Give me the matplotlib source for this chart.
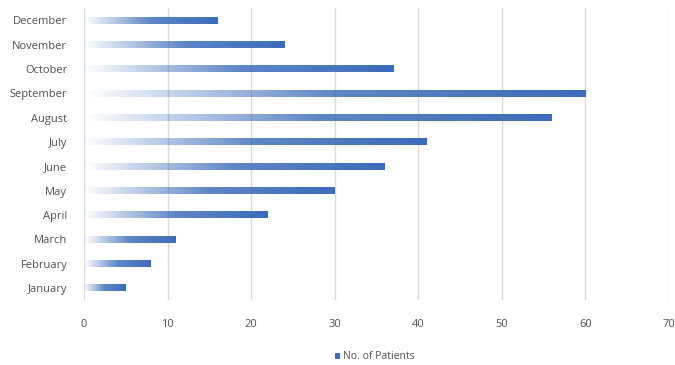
import matplotlib
matplotlib.use("Agg")
import matplotlib.pyplot as plt
import numpy as np
from matplotlib.colors import LinearSegmentedColormap
from matplotlib.patches import Patch

months = ["January", "February", "March", "April", "May", "June", "July",
          "August", "September", "October", "November", "December"]
patients = [5, 8, 11, 22, 30, 36, 41, 56, 60, 37, 24, 16]
xticks = [0, 10, 20, 30, 40, 50, 60, 70]

plt.rcParams['font.family'] = ['Open Sans', 'DejaVu Sans']
fig = plt.figure(figsize=(6.75, 3.65), dpi=100)
ax = fig.add_axes([0.1244, 0.178, 0.8666, 0.80])

bar_color = "#3f6fbd"
cmap = LinearSegmentedColormap.from_list(
    "grad", [(0.0, (0.25, 0.44, 0.74, 0.0)),
             (0.5, (0.25, 0.44, 0.74, 0.85)),
             (1.0, (0.24, 0.42, 0.73, 1.0))])

ypos = np.arange(len(months))
bars = ax.barh(ypos, patients, height=0.28, color="none", edgecolor="none", zorder=3)
grad = np.linspace(0, 1, 256).reshape(1, -1)
for b in bars:
    x0, y0 = b.get_x(), b.get_y()
    w, h = b.get_width(), b.get_height()
    im = ax.imshow(grad, cmap=cmap, aspect="auto", extent=[x0, x0 + w, y0, y0 + h],
                   origin="lower", zorder=3, interpolation="bilinear")
    im.set_clip_path(b)

ax.set_xlim(0, 70)
ax.set_ylim(-0.5, len(months) - 0.5)
ax.set_xticks(xticks)
ax.set_yticks(ypos)
ax.set_yticklabels(months)
ax.grid(axis="x", color="#d9d9d9", linewidth=1.0, zorder=0)
ax.set_axisbelow(True)
for s in ax.spines.values():
    s.set_visible(False)
ax.tick_params(axis="both", length=0, labelsize=8, colors="#505050")
ax.tick_params(axis="x", pad=14)
ax.tick_params(axis="y", pad=12)

handle = Patch(facecolor=bar_color, edgecolor="none")
fig.legend([handle], ["No. of Patients"], loc="center", bbox_to_anchor=(0.555, 0.022),
           frameon=False, fontsize=7.5, handlelength=0.5, handleheight=0.5,
           handletextpad=0.3, labelcolor="#505050")

fig.savefig("out.png", dpi=100)
